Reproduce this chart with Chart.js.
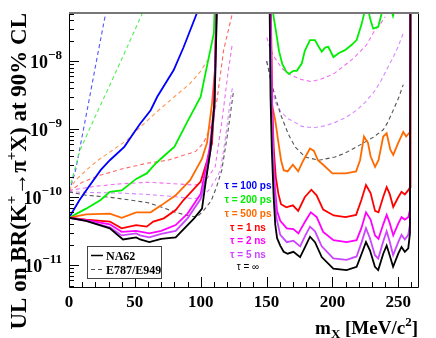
<!DOCTYPE html>
<html>
<head>
<meta charset="utf-8">
<script src="https://cdn.jsdelivr.net/npm/chart.js@4"></script>
<style>
  body { margin: 0; background: #fff; }
</style>
</head>
<body>
<canvas id="myChart" width="436" height="338"></canvas>
<script>
// [mass MeV/c^2, upper limit] pairs
const na62_100ps = [[0,5.0e-11],[8,9.1e-11],[13,1.26e-10],[24,2.5e-10],[31,3.5e-10],[42,5.5e-10],[49,8.7e-10],[54,1.2e-9],[62,1.9e-9],[67,3.0e-9],[79.5,7.4e-9],[87,1.6e-8],[97,5.0e-8],[99,8e-8]];

const na62_200ps_lo = [[0,5.0e-11],[13,6.8e-11],[24,9.1e-11],[31,1.2e-10],[40,1.26e-10],[51,1.86e-10],[59,2.24e-10],[66,3.16e-10],[77,4.9e-10],[80,5.5e-10],[90,1.3e-9],[100,3.0e-9],[105,8.9e-9],[110,2.57e-8],[110.8,8e-8]];
const na62_200ps_hi = [[153,9e-8],[155,5.0e-8],[157.5,2.5e-8],[159.5,1.4e-8],[162,9e-9],[165,7e-9],[167,6.5e-9],[170.4,7.2e-9],[173,7.2e-9],[176.8,9.3e-9],[179,1.41e-8],[183,2.04e-8],[186.8,2.04e-8],[189.4,1.66e-8],[191.9,1.38e-8],[194.5,1.58e-8],[196.9,1.62e-8],[200.8,1.15e-8],[205,1.32e-8],[209.6,1.45e-8],[214.7,1.74e-8],[218.4,2.04e-8],[222.2,3.5e-8],[224.7,5.6e-8],[227.2,5.6e-8],[229,4.0e-8],[231,3.0e-8],[234.8,3.2e-8],[237.4,5.0e-8],[240,7.9e-8],[244,6.3e-8],[246,4.6e-8],[248,6.3e-8],[252,1.0e-7]];

const na62_500ps_lo = [[0,5.0e-11],[13,5.6e-11],[31,5.75e-11],[40,5.0e-11],[51,6.0e-11],[62,6.0e-11],[70,7.6e-11],[81,1.07e-10],[92,1.78e-10],[101,3.7e-10],[104.8,6.3e-10],[108.6,2.4e-9],[111.1,8.3e-9],[112,8e-8]];
const na62_500ps_hi = [[153.3,8e-8],[154,2.4e-9],[156.6,1.35e-9],[159.1,6.2e-10],[161,3.5e-10],[163,2.5e-10],[166,2.4e-10],[170,3.0e-10],[174,2.4e-10],[178,3.5e-10],[183,5.2e-10],[186,4.8e-10],[189,3.5e-10],[193,3.0e-10],[200,2.24e-10],[210,2.24e-10],[218,2.4e-10],[221,3.5e-10],[224,7.8e-10],[227,6.3e-10],[229,4.0e-10],[232.4,2.8e-10],[235,3.5e-10],[238.6,7.8e-10],[241.2,8.7e-10],[244,5.0e-10],[246.2,4.2e-10],[250,6.3e-10],[253.8,9.1e-10],[256,7.8e-10],[258.9,9.1e-10],[259.4,8e-8]];

const na62_1ns_lo = [[0,5.0e-11],[13,4.7e-11],[31,4.4e-11],[40,3.5e-11],[51,3.9e-11],[59,3.7e-11],[64,4.4e-11],[72,4.9e-11],[81,6.5e-11],[87,9.1e-11],[100,1.7e-10],[105,3.5e-10],[108.6,6.2e-10],[110.4,2.7e-9],[112,8e-8]];
const na62_1ns_hi = [[153.2,8e-8],[154,3.16e-9],[155.5,5.0e-10],[157,2.0e-10],[159,1.12e-10],[161,7.9e-11],[165,7.1e-11],[170,7.6e-11],[174,6.3e-11],[179,1.0e-10],[184,1.29e-10],[188,1.07e-10],[193,6.6e-11],[201,5.4e-11],[210,5.1e-11],[218,5.5e-11],[222,9.1e-11],[225.5,1.51e-10],[229,1.15e-10],[232.4,6.3e-11],[235,6.0e-11],[238.5,1.0e-10],[241.2,1.41e-10],[243.5,1.12e-10],[246.2,7.2e-11],[250,1.0e-10],[252.5,1.2e-10],[255,1.1e-10],[257.5,1.26e-10],[259,1.41e-10],[259.3,8e-8]];

const na62_2ns_lo = [[0,5.0e-11],[13,4.6e-11],[31,4.0e-11],[40,3.1e-11],[51,3.2e-11],[61,2.95e-11],[70,3.2e-11],[81,3.9e-11],[90,5.75e-11],[100,1.12e-10],[103.6,2.5e-10],[107,5.6e-10],[110,2.0e-9],[112.2,8e-8]];
const na62_2ns_hi = [[153,8e-8],[154,3.16e-9],[155,5.0e-10],[156.5,1.26e-10],[158,6.3e-11],[160.4,4.5e-11],[165.4,3.5e-11],[170.4,3.4e-11],[174.2,2.95e-11],[179.3,4.4e-11],[183.6,6.0e-11],[188.1,5.1e-11],[193,3.1e-11],[200.8,2.34e-11],[210.8,2.19e-11],[218.4,2.34e-11],[222.2,3.6e-11],[225.5,6.0e-11],[229,4.7e-11],[232.4,2.75e-11],[235,2.45e-11],[238.6,4.0e-11],[241.2,5.5e-11],[243.5,4.2e-11],[246.2,2.75e-11],[250,4.1e-11],[252.5,5.1e-11],[255,4.7e-11],[257.6,5.1e-11],[258.9,6.5e-11],[259.2,8e-8]];

const na62_5ns_lo = [[0,5.0e-11],[13,4.5e-11],[31,3.6e-11],[40,2.75e-11],[51,2.95e-11],[54,2.75e-11],[61,2.57e-11],[70,2.9e-11],[81,3.2e-11],[90,4.9e-11],[100,9.5e-11],[104,2.0e-10],[107.5,5.0e-10],[110.5,2.0e-9],[112.3,8e-8]];
const na62_5ns_hi = [[152.8,8e-8],[153.8,3.16e-9],[154.8,5.0e-10],[156,1.26e-10],[157.5,5.0e-11],[160.4,2.8e-11],[165.4,2.19e-11],[170.4,2.3e-11],[175.5,1.9e-11],[179.3,2.7e-11],[183,3.7e-11],[186.8,3.16e-11],[191.9,1.9e-11],[200.7,1.26e-11],[210.8,1.2e-11],[218.4,1.35e-11],[222.2,2.19e-11],[225.5,3.5e-11],[228.5,2.5e-11],[232.3,1.41e-11],[234.8,1.26e-11],[238.6,2.24e-11],[241.2,3.16e-11],[243.5,2.24e-11],[246.1,1.41e-11],[250,2.19e-11],[252.5,2.8e-11],[255,2.4e-11],[257.6,2.8e-11],[258.9,4.0e-11],[259.2,8e-8]];

const na62_inf_lo = [[0,5.0e-11],[13,4.5e-11],[31,3.5e-11],[41,2.4e-11],[51,2.57e-11],[54,2.4e-11],[61,2.2e-11],[70,2.45e-11],[81,2.57e-11],[95,4.9e-11],[101,6.8e-11],[103.6,1.58e-10],[107.4,4.9e-10],[110.5,2.5e-9],[112.5,8e-8]];
const na62_inf_hi = [[152.3,8e-8],[153,3.16e-9],[154,5.0e-10],[155.4,1.0e-10],[156.6,4.0e-11],[158,2.5e-11],[160.4,1.95e-11],[163,1.58e-11],[166,1.48e-11],[170.4,1.58e-11],[175.5,1.32e-11],[179.3,1.86e-11],[183,2.63e-11],[186.8,2.19e-11],[191.9,1.32e-11],[200.7,8.9e-12],[210.8,8.5e-12],[218.4,9.5e-12],[222.2,1.48e-11],[225.5,2.19e-11],[228.5,1.66e-11],[232.3,9.5e-12],[234.8,8.5e-12],[238.6,1.48e-11],[241.2,1.95e-11],[243.5,1.41e-11],[246.1,9.5e-12],[250,1.48e-11],[252.5,1.86e-11],[255,1.58e-11],[257.6,1.78e-11],[258.9,2.95e-11],[259.2,8e-8]];

const e949_100ps = [[0,1.2e-10],[2.5,1.7e-10],[5,2.5e-10],[10,7.9e-10],[16,3.2e-9],[22,1.32e-8],[27.8,5.0e-8],[30,8e-8]];
const e949_200ps = [[0,1.26e-10],[8.3,4.9e-10],[20,1.55e-9],[31.6,4.7e-9],[44,1.58e-8],[55.6,5.0e-8],[58,6.3e-8]];
const e949_500ps = [[0,1.26e-10],[5,1.78e-10],[16,2.8e-10],[22,3.5e-10],[33,4.9e-10],[44,6.9e-10],[54,1.07e-9],[67,1.82e-9],[80,3.0e-9],[92,4.7e-9],[100,7.1e-9],[105,1.02e-8]];
const e949_1ns = [[0,1.2e-10],[10,1.66e-10],[23.5,2.1e-10],[40,2.6e-10],[59,3.16e-10],[75,3.5e-10],[96,4.7e-10],[102,6.2e-10],[108,1.12e-9],[112.4,2.7e-9],[117.4,1.45e-8],[124,5.0e-8],[125,8e-8]];
const e949_2ns_lo = [[0,1.26e-10],[20,1.45e-10],[40,1.58e-10],[60,1.66e-10],[80,1.58e-10],[95,1.51e-10],[100,1.58e-10],[105,1.9e-10],[111,2.8e-10],[116,1.26e-9],[121,7.4e-9],[124,1.78e-8]];
const e949_2ns_hi = [[150.2,2.24e-8],[152.5,1.58e-8],[155.3,1.2e-8],[161.7,7.8e-9],[168,6.3e-9],[176,5.4e-9],[184,5.0e-9],[192,5.5e-9],[201,6.5e-9],[208,8.3e-9],[216,1.1e-8],[226,1.74e-8],[232.4,2.9e-8],[236,3.4e-8],[240,4.5e-8]];
const e949_5ns_lo = [[0,1.2e-10],[20,1.17e-10],[40,1.15e-10],[60,1.1e-10],[80,1.02e-10],[95,9.5e-11],[100,1.0e-10],[106,1.26e-10],[111,1.78e-10],[115,2.5e-10],[119,7.9e-10],[122.5,2.7e-9],[124,4.0e-9]];
const e949_5ns_hi = [[150.5,1.0e-8],[153,5.0e-9],[156.6,2.5e-9],[161,1.78e-9],[166.7,1.41e-9],[171.7,1.26e-9],[176.8,1.1e-9],[186,1.05e-9],[194.5,1.12e-9],[202,1.26e-9],[210,1.48e-9],[218.4,1.9e-9],[225,2.5e-9],[232.4,3.7e-9],[237,5.2e-9],[242.3,8.3e-9],[246,1.12e-8],[249.8,1.62e-8],[253.8,2.57e-8]];
const e949_inf_lo = [[0,1.2e-10],[13,1.07e-10],[31,1.0e-10],[50,8.9e-11],[60,8.3e-11],[70,7.2e-11],[81,6.0e-11],[90,5.4e-11],[97,5.1e-11],[102,6.3e-11],[108,8.9e-11],[112,1.41e-10],[116,2.5e-10],[120.5,8.7e-10],[125,3.7e-9]];
const e949_inf_hi = [[150,1.0e-8],[155.3,3.7e-9],[160.4,1.7e-9],[166.7,8.3e-10],[171.7,5.5e-10],[179.3,3.9e-10],[189.5,3.5e-10],[202,3.9e-10],[210,4.5e-10],[218.4,5.5e-10],[231,7.6e-10],[238.6,9.8e-10],[242,1.26e-9],[246.2,1.9e-9],[250,2.8e-9],[253.8,4.5e-9]];

const massTicks = [0, 50, 100, 150, 200, 250];
const limitExps = [-11, -10, -9, -8];
const tauLabels = ["τ = 100 ps", "τ = 200 ps", "τ = 500 ps", "τ = 1 ns", "τ = 2 ns", "τ = 5 ns", "τ = ∞"];
const tauColors = ["#0000ff", "#00ee00", "#ff6a00", "#ff0000", "#ff00ff", "#cc44ff", "#000000"];
const dashColors = ["#5555ff", "#55ee55", "#ff9955", "#ff6666", "#f070f0", "#d888ff", "#555555"];

const gap = [[130, null]];

function line(data, color, dashed, order) {
    return {
        data,
        borderColor: color,
        borderWidth: dashed ? 1.1 : 1.8,
        borderDash: dashed ? [4, 3] : [],
        pointRadius: 0,
        tension: 0,
        fill: false,
        clip: 0,
        order
    };
}

const datasets = [
    line(na62_inf_lo.concat(gap, na62_inf_hi), tauColors[6], false, 0),
    line(na62_5ns_lo.concat(gap, na62_5ns_hi), tauColors[5], false, 1),
    line(na62_2ns_lo.concat(gap, na62_2ns_hi), tauColors[4], false, 2),
    line(na62_1ns_lo.concat(gap, na62_1ns_hi), tauColors[3], false, 3),
    line(na62_500ps_lo.concat(gap, na62_500ps_hi), tauColors[2], false, 4),
    line(na62_200ps_lo.concat(gap, na62_200ps_hi), tauColors[1], false, 5),
    line(na62_100ps, tauColors[0], false, 6),
    line(e949_inf_lo.concat(gap, e949_inf_hi), dashColors[6], true, 10),
    line(e949_5ns_lo.concat(gap, e949_5ns_hi), dashColors[5], true, 11),
    line(e949_2ns_lo.concat(gap, e949_2ns_hi), dashColors[4], true, 12),
    line(e949_1ns, dashColors[3], true, 13),
    line(e949_500ps, dashColors[2], true, 14),
    line(e949_200ps, dashColors[1], true, 15),
    line(e949_100ps, dashColors[0], true, 16)
];

const SERIF = '"Liberation Serif", "Times New Roman", serif';

// draw a run of text pieces [text, size, rise]
function rich(ctx, parts, x, y, align) {
    let w = 0;
    parts.forEach(p => {
        ctx.font = "bold " + p[1] + "px " + SERIF;
        w += ctx.measureText(p[0]).width;
    });
    let cx = align === "right" ? x - w : align === "center" ? x - w / 2 : x;
    parts.forEach(p => {
        ctx.font = "bold " + p[1] + "px " + SERIF;
        ctx.fillText(p[0], cx, y - p[2]);
        cx += ctx.measureText(p[0]).width;
    });
}

const rootFrame = {
    id: "rootFrame",
    afterDatasetsDraw(chart) {
        const {ctx, chartArea: a, scales: {x, y}} = chart;
        ctx.save();
        ctx.textBaseline = "alphabetic";
        ctx.fillStyle = "#000";

        // ticks pointing inside
        ctx.strokeStyle = "#000";
        ctx.lineWidth = 1;
        ctx.beginPath();
        for (let v = 0; v <= x.max; v += 10) {
            const px = Math.round(x.getPixelForValue(v)) + 0.5;
            const len = v % 50 === 0 ? 10 : 5;
            ctx.moveTo(px, a.bottom);
            ctx.lineTo(px, a.bottom - len);
        }
        for (let e = -12; e <= -8; e++) {
            for (let m = 1; m <= 9; m++) {
                const v = m * Math.pow(10, e);
                if (v < y.min || v > y.max) continue;
                const py = Math.round(y.getPixelForValue(v)) + 0.5;
                ctx.moveTo(a.left, py);
                ctx.lineTo(a.left + (m === 1 ? 10 : 5), py);
            }
        }
        ctx.stroke();

        // frame
        ctx.beginPath();
        ctx.moveTo(a.left + 0.5, a.top);
        ctx.lineTo(a.left + 0.5, a.bottom + 0.5);
        ctx.lineTo(a.right + 0.5, a.bottom + 0.5);
        ctx.lineTo(a.right + 0.5, a.top);
        ctx.stroke();
        ctx.strokeStyle = "#777";
        ctx.lineWidth = 2;
        ctx.beginPath();
        ctx.moveTo(a.left, a.top);
        ctx.lineTo(a.right + 1, a.top);
        ctx.stroke();

        // tick labels
        massTicks.forEach(v => {
            rich(ctx, [[String(v), 17, 0]], x.getPixelForValue(v), a.bottom + 20, "center");
        });
        limitExps.forEach(e => {
            const py = y.getPixelForValue(Math.pow(10, e));
            rich(ctx, [["10", 18, 0], ["\u2212" + Math.abs(e), 13, 9]], 62, py + 7, "right");
        });

        // axis titles
        rich(ctx, [["m", 19, 0], ["X", 13, -4], [" [MeV/c", 19, 0], ["2", 13, 8], ["]", 19, 0]], a.right, 334, "right");
        ctx.save();
        ctx.translate(26, a.top);
        ctx.rotate(-Math.PI / 2);
        rich(ctx, [["UL on BR(K", 23, 0], ["+", 15, 10], ["\u2192\u03c0", 23, 0], ["+", 15, 10], ["X) at 90% CL", 23, 0]], 0, 0, "right");
        ctx.restore();

        // legend box
        ctx.fillStyle = "#fff";
        ctx.fillRect(87.5, 246.5, 74, 32);
        ctx.strokeStyle = "#444";
        ctx.lineWidth = 1;
        ctx.strokeRect(87.5, 246.5, 74, 32);
        ctx.strokeStyle = "#000";
        ctx.lineWidth = 1.5;
        ctx.beginPath();
        ctx.moveTo(91, 255.5);
        ctx.lineTo(103, 255.5);
        ctx.stroke();
        ctx.strokeStyle = "#555";
        ctx.lineWidth = 1;
        ctx.setLineDash([4, 3]);
        ctx.beginPath();
        ctx.moveTo(91, 269.5);
        ctx.lineTo(104, 269.5);
        ctx.stroke();
        ctx.setLineDash([]);
        ctx.fillStyle = "#000";
        rich(ctx, [["NA62", 12, 0]], 106, 259.5, "left");
        rich(ctx, [["E787/E949", 12, 0]], 106, 274, "left");

        // lifetime labels
        const ys = [186, 200.5, 214, 228, 241.5, 255.5, 267.5];
        ctx.textAlign = "center";
        ctx.textBaseline = "middle";
        tauLabels.forEach((t, i) => {
            ctx.font = (i < 6 ? "bold " : "") + '10px "Liberation Sans", Arial, sans-serif';
            ctx.fillStyle = tauColors[i];
            ctx.fillText(t, 248, ys[i]);
        });
        ctx.restore();
    }
};

new Chart(document.getElementById("myChart"), {
    type: "line",
    data: {datasets},
    options: {
        responsive: false,
        animation: false,
        devicePixelRatio: 1,
        layout: {padding: {left: 69, right: 18, top: 13, bottom: 51}},
        plugins: {legend: {display: false}, tooltip: {enabled: false}},
        scales: {
            x: {type: "linear", min: 0, max: 265, display: false},
            y: {type: "logarithmic", min: 4.8e-12, max: 5.1e-8, display: false}
        }
    },
    plugins: [rootFrame]
});
</script>
</body>
</html>
